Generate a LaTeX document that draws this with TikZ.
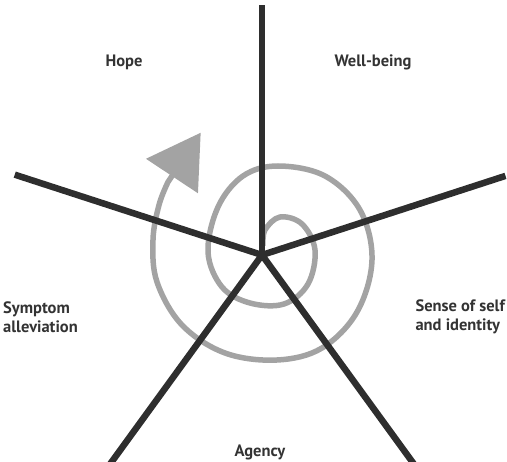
\documentclass[tikz,border=0pt]{standalone}
\usepackage{fontspec}
\setmainfont{PT Sans}
\usetikzlibrary{arrows.meta}
\definecolor{RayDark}{HTML}{2E2E2E}
\definecolor{LoopGrey}{HTML}{A3A3A3}
\definecolor{LabelInk}{HTML}{333333}

\begin{document}
\begin{tikzpicture}[
    x=1pt, y=-1pt,
    ray/.style={line width=6.5pt, color=RayDark},
    loop/.style={line width=5.5pt, color=LoopGrey, -{Triangle[length=52pt,width=61pt]}},
    sectorlabel/.style={font=\fontsize{16.5}{19}\selectfont\bfseries, text=LabelInk, inner sep=0pt, align=left}
  ]
    \useasboundingbox (0,0) rectangle (507,462);
    \coordinate (hub) at (262,255);

    % spiral under the rays
    \draw[loop] plot[smooth, tension=0.6] coordinates {
        (263,246) (265,230) (280,217) (302,224) (315,250) (308,284) (284,304)
        (250,303) (222,287) (208,252) (218,207) (243,176) (278,166) (325,176)
        (360,210) (372,260) (357,312) (322,348) (277,360) (225,353) (182,325)
        (157,282) (153,240) (159,205) (168,182)} -- (200.7,132.7);

    \foreach \a/\r in {270/250, 198/260, 126/258, 54/258, 342/256}
      \draw[ray] (hub) -- ++(\a:\r) coordinate (end\a);

    \node[sectorlabel] (hope) at (124,62) {Hope};
    \node[sectorlabel] (wellbeing) at (373,62) {Well-being};
    \node[sectorlabel, anchor=west] (symptom) at (3,317) {Symptom\\alleviation};
    \node[sectorlabel, anchor=east] (self) at (505,317) {Sense of self\\and identity};
    \node[sectorlabel] (agency) at (260,452) {Agency};
  \end{tikzpicture}
\end{document}
